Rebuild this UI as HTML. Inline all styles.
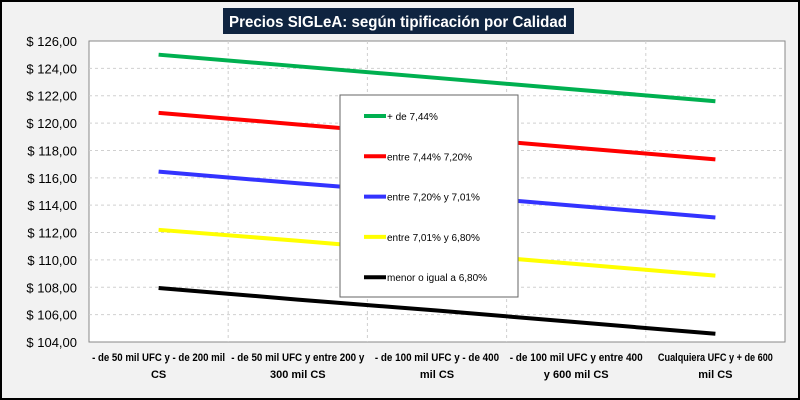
<!DOCTYPE html>
<html><head><meta charset="utf-8"><style>
body{margin:0;width:800px;height:400px;overflow:hidden;background:#fff}
svg{display:block;font-family:"Liberation Sans",sans-serif}
</style></head><body>
<svg id="c" width="800" height="400">
<rect x="1" y="1" width="798" height="398" fill="#f2f2f2" stroke="#000" stroke-width="2"/>
<rect x="223" y="8" width="351" height="26" fill="#0f2440"/>
<text x="229" y="27" font-size="16" font-weight="bold" fill="#fff" textLength="338" lengthAdjust="spacingAndGlyphs">Precios SIGLeA: según tipificación por Calidad</text>
<rect x="89" y="41" width="696" height="301" fill="#fff" stroke="#888"/>
<g id="grid"></g><g id="ylab"></g><g id="xlab"></g><g id="lines"></g>
<g>
<rect x="340" y="95" width="178" height="202" fill="#fff" stroke="#666"/>
<g id="leg"></g></g>
</svg>
<script>
const categories=[["- de 50 mil UFC y - de 200 mil","CS"],["- de 50 mil UFC y entre  200 y","300 mil CS"],["- de 100 mil UFC y - de 400","mil CS"],["- de 100 mil UFC y entre  400","y 600 mil CS"],["Cualquiera UFC y + de 600","mil CS"]];
const seriesNames=["+ de 7,44%","entre 7,44% 7,20%","entre 7,20% y 7,01%","entre 7,01% y 6,80%","menor o igual a 6,80%"];
const seriesColors=["#00b050","#ff0000","#3333ff","#ffff00","#000000"];
const green=[125.0,124.15,123.3,122.45,121.6];
const red=[120.75,119.9,119.05,118.2,117.35];
const blue=[116.45,115.6,114.8,113.95,113.1];
const yellow=[112.2,111.4,110.55,109.7,108.85];
const black=[107.95,107.1,106.3,105.45,104.6];
const yTicks=[104,106,108,110,112,114,116,118,120,122,124,126];
const series=[green,red,blue,yellow,black];
const L=89,R=785,T=41,B=342,yMin=104,yMax=126;
const ns="http://www.w3.org/2000/svg";
const cw=(R-L)/categories.length;
const x=i=>L+cw*(i+0.5);
const y=v=>B-(v-yMin)/(yMax-yMin)*(B-T);
function mk(t,a,p){const e=document.createElementNS(ns,t);for(const k in a)e.setAttribute(k,a[k]);p.appendChild(e);return e;}
const grid=document.getElementById('grid'),yl=document.getElementById('ylab'),xl=document.getElementById('xlab'),ln=document.getElementById('lines'),lg=document.getElementById('leg');
yTicks.forEach(v=>{
 if(v>yMin&&v<yMax){const g=mk('line',{x1:L,x2:R,y1:y(v),y2:y(v),stroke:'#d0d0d0','stroke-dasharray':'3,3'},grid);
 
 }
 const t=mk('text',{x:L-12,y:y(v)+5,'text-anchor':'end','font-size':'13',fill:'#000'},yl);
 t.textContent='$ '+v.toFixed(2).replace('.',',');
 
 
});
for(let i=1;i<categories.length;i++){const g=mk('line',{x1:L+cw*i,x2:L+cw*i,y1:T,y2:B,stroke:'#d0d0d0','stroke-dasharray':'3,3'},grid);
 
 }
categories.forEach((c,i)=>{c.forEach((s,j)=>{const a={x:x(i),y:361+j*17,'text-anchor':'middle','font-size':'11','font-weight':'bold',fill:'#000'};
 if(j===0){a.textLength=Math.min(133,s.length*4.6);a.lengthAdjust='spacingAndGlyphs';}
 const t=mk('text',a,xl);t.textContent=s;
 
 });});
series.forEach((s,k)=>{
 const p=mk('polyline',{points:s.map((v,i)=>x(i)+','+y(v)).join(' '),fill:'none',stroke:seriesColors[k],'stroke-width':'4'},ln);
 
 
 const ly=116+k*40.3;
 const m=mk('line',{x1:364,x2:386,y1:ly,y2:ly,stroke:seriesColors[k],'stroke-width':'4'},lg);
 
 
 const t=mk('text',{x:387,y:ly+4,'font-size':'10',fill:'#000'},lg);t.textContent=seriesNames[k];
 
 
});
</script>
</body></html>
